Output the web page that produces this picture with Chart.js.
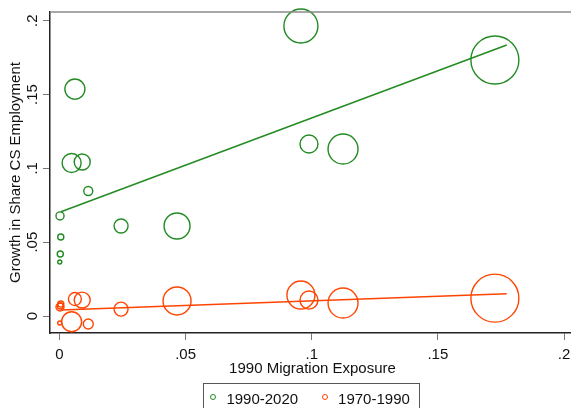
<!DOCTYPE html>
<html>
<head>
<meta charset="utf-8">
<script src="https://cdn.jsdelivr.net/npm/chart.js@4.4.1/dist/chart.umd.min.js"></script>
<style>
    html, body { margin: 0; padding: 0; overflow: hidden; background: #fff; }
    #wrap { position: relative; width: 575px; height: 408px; }
    #legend {
        position: absolute; left: 203px; top: 383px; width: 217px; height: 40px;
        border: 1px solid #555; box-sizing: border-box;
        font-family: "Liberation Sans", Arial, sans-serif; font-size: 15px; color: #111;
    }
    #legend .mk {
        position: absolute; top: 10px; width: 4px; height: 4px;
        border-radius: 50%; border: 1.4px solid; background: #fff;
    }
    #legend .lb { position: absolute; top: 6.6px; line-height: 15px; white-space: nowrap; }
</style>
</head>
<body>
<div id="wrap">
    <canvas id="myChart" width="575" height="408"></canvas>
    <div id="legend"></div>
</div>
<script>
// 1990 migration exposure by district (same districts in both periods)
var exposure = [0.0957, 0.1726, 0.0989, 0.1124, 0.0466, 0.0244, 0.0114,
                0.0048, 0.0090, 0.0061, 0.0002, 0.0005, 0.0003, 0.0001];

// growth in share of CS employment
var growth9020 = [0.1964, 0.1734, 0.1165, 0.1131, 0.0610, 0.0610, 0.0847,
                  0.1036, 0.1043, 0.1537, 0.0678, 0.0535, 0.0420, 0.0366];
var growth7090 = [0.0142, 0.0121, 0.0108, 0.0088, 0.0102, 0.0047, -0.0054,
                  -0.0039, 0.0108, 0.0115, 0.0061, 0.0081, 0.0068, -0.0047];

// district weights (bubble area)
var weight9020 = [50.2, 100, 14.1, 39.0, 29.3, 8.5, 3.5, 15.7, 11.1, 17.4, 2.8, 1.6, 1.6, 0.7];
var weight7090 = [34.0, 100, 14.1, 39.0, 34.0, 8.5, 4.3, 17.4, 11.1, 7.3, 2.8, 1.6, 1.6, 0.7];

// linear fit end points
var fitX = [0.0006, 0.1773];
var fit9020 = [0.0706, 0.1835];
var fit7090 = [0.0041, 0.0151];

var xTicks = [0, 0.05, 0.1, 0.15, 0.2];
var xTickLabels = ['0', '.05', '.1', '.15', '.2'];
var yTicks = [0, 0.05, 0.1, 0.15, 0.2];
var yTickLabels = ['0', '.05', '.1', '.15', '.2'];

var green = 'rgb(34,139,34)';
var orange = 'rgb(255,69,0)';
var font = { family: '"Liberation Sans", Arial, sans-serif', size: 15 };
var textColor = '#111';

function bubbles(ys, ws) {
    return exposure.map(function (x, i) {
        return { x: x, y: ys[i], r: 2.4 * Math.sqrt(ws[i]) };
    });
}

function fitLine(ys) {
    return fitX.map(function (x, i) { return { x: x, y: ys[i] }; });
}

// fixed axis box, no extra padding for the tick labels
function fixBox(size) {
    return function (s) {
        if (s.isHorizontal()) s.height = size; else s.width = size;
        s.paddingTop = s.paddingBottom = s.paddingLeft = s.paddingRight = 0;
    };
}

// grey outline along the top of the plot region
var plotTop = {
    id: 'plotTop',
    afterDraw: function (chart) {
        var ctx = chart.ctx, a = chart.chartArea;
        ctx.save();
        ctx.strokeStyle = '#8a8a8a';
        ctx.lineWidth = 1.5;
        ctx.beginPath();
        ctx.moveTo(a.left, a.top);
        ctx.lineTo(chart.width, a.top);
        ctx.stroke();
        ctx.restore();
    }
};

var ctx = document.getElementById('myChart');

var myChart = new Chart(ctx, {
    type: 'bubble',
    data: {
        datasets: [{
            label: '1990-2020',
            data: bubbles(growth9020, weight9020),
            borderColor: green,
            backgroundColor: 'rgba(0,0,0,0)',
            borderWidth: 1.4,
            clip: false
        }, {
            label: '1970-1990',
            data: bubbles(growth7090, weight7090),
            borderColor: orange,
            backgroundColor: 'rgba(0,0,0,0)',
            borderWidth: 1.4,
            clip: false
        }, {
            type: 'line',
            label: 'fit 1990-2020',
            data: fitLine(fit9020),
            borderColor: green,
            borderWidth: 1.5,
            pointRadius: 0,
            fill: false
        }, {
            type: 'line',
            label: 'fit 1970-1990',
            data: fitLine(fit7090),
            borderColor: orange,
            borderWidth: 1.5,
            pointRadius: 0,
            fill: false
        }]
    },
    options: {
        responsive: false,
        animation: false,
        events: [],
        layout: { autoPadding: false, padding: { left: 0, right: 0, top: 12, bottom: 28 } },
        plugins: {
            legend: { display: false },
            tooltip: { enabled: false }
        },
        scales: {
            x: {
                type: 'linear',
                min: -0.00377,
                max: 0.20436,
                afterBuildTicks: function (s) {
                    s.ticks = xTicks.map(function (v) { return { value: v }; });
                },
                afterFit: fixBox(47),
                grid: { drawOnChartArea: false, drawTicks: true, tickLength: 7, tickColor: '#777' },
                border: { color: '#222', width: 1.5 },
                ticks: {
                    font: font, color: textColor, padding: 6, maxRotation: 0, autoSkip: false,
                    callback: function (v, i) { return xTickLabels[i]; }
                },
                title: {
                    display: true, text: '1990 Migration Exposure',
                    font: font, color: textColor, padding: { top: 0, bottom: 2 }
                }
            },
            y: {
                type: 'linear',
                min: -0.0115,
                max: 0.2059,
                afterBuildTicks: function (s) {
                    s.ticks = yTicks.map(function (v) { return { value: v }; });
                },
                afterFit: fixBox(50),
                grid: { drawOnChartArea: false, drawTicks: true, tickLength: 7, tickColor: '#777' },
                border: { color: '#222', width: 1.5 },
                ticks: {
                    font: font, color: textColor, padding: 0, autoSkip: false,
                    minRotation: 90, maxRotation: 90, crossAlign: 'center',
                    callback: function (v, i) { return yTickLabels[i]; }
                },
                title: {
                    display: true, text: 'Growth in Share CS Employment',
                    font: font, color: textColor, padding: { top: 6.5, bottom: 0 }
                }
            }
        }
    },
    plugins: [plotTop]
});

// boxed legend for the two periods
var legendBox = document.getElementById('legend');
myChart.data.datasets.slice(0, 2).forEach(function (ds, i) {
    var mk = document.createElement('span');
    mk.className = 'mk';
    mk.style.left = (6 + i * 111.7) + 'px';
    mk.style.borderColor = ds.borderColor;
    var lb = document.createElement('span');
    lb.className = 'lb';
    lb.style.left = (22.4 + i * 111.7) + 'px';
    lb.textContent = ds.label;
    legendBox.appendChild(mk);
    legendBox.appendChild(lb);
});
</script>
</body>
</html>
